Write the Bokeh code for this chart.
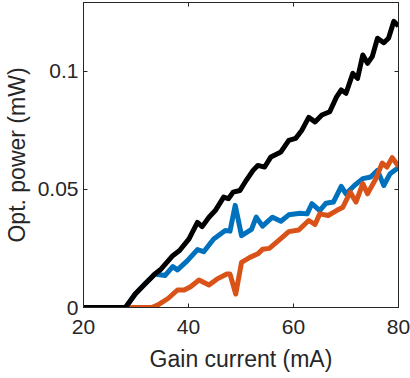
from bokeh.plotting import figure
from bokeh.models import Range1d, LinearAxis, FixedTicker, NumeralTickFormatter
from bokeh.embed import file_html
from bokeh.resources import INLINE

# Data (Gain current in mA, optical power in mW)
black_x = [20, 28.0, 29.85, 31.7, 33.6, 34.8, 37.0, 38.3, 40.1, 41.7, 42.6, 43.9, 45.1, 46.7, 47.6,
           48.5, 49.8, 51.0, 52.3, 53.2, 54.5, 55.7, 57.6, 59.1, 60.4, 61.6, 62.9, 64.1, 65.4, 66.9,
           68.2, 69.1, 70.0, 71.3, 72.2, 73.2, 74.1, 75.0, 76.0, 77.2, 78.1, 79.1, 80.0]
black_y = [0, 0, 0.0057, 0.0099, 0.0142, 0.0163, 0.0219, 0.0241, 0.029, 0.036, 0.0342, 0.0382, 0.041,
           0.0467, 0.046, 0.0488, 0.0495, 0.0538, 0.058, 0.0601, 0.0594, 0.0637, 0.0658, 0.0707, 0.0715,
           0.075, 0.0804, 0.0785, 0.0814, 0.0828, 0.0891, 0.092, 0.0906, 0.099, 0.0969, 0.1068, 0.1033,
           0.1061, 0.1139, 0.112, 0.1139, 0.121, 0.1191]

blue_x = [20, 28.0, 29.85, 31.7, 33.6, 35.5, 37.0, 37.9, 39.8, 41.7, 42.9, 44.8, 47.0, 47.9, 48.9, 50.1,
          52.0, 52.9, 54.1, 56.0, 57.6, 59.1, 61.3, 62.6, 63.5, 65.0, 66.2, 67.6, 69.1, 70.0, 71.6,
          73.2, 74.7, 76.0, 77.2, 78.4, 80.0]
blue_y = [0, 0, 0.0057, 0.0099, 0.0142, 0.0135, 0.0173, 0.0159, 0.0198, 0.0245, 0.0236, 0.029, 0.0326,
          0.0323, 0.0432, 0.0304, 0.033, 0.0382, 0.0344, 0.0382, 0.0365, 0.0392, 0.0399, 0.0396, 0.0439,
          0.041, 0.0441, 0.0446, 0.0512, 0.0481, 0.0516, 0.0545, 0.0552, 0.058, 0.0516, 0.0566, 0.0592]

orange_x = [20, 33.0, 34.2, 36.1, 37.9, 39.2, 40.4, 42.0, 43.9, 45.4, 47.3, 47.9, 49.0, 50.1, 51.7,
            53.2, 54.1, 55.4, 57.3, 59.1, 61.0, 62.9, 64.1, 65.0, 66.6, 68.2, 69.4, 70.8, 71.9, 73.2,
            74.1, 75.7, 76.9, 77.8, 78.8, 80.0]
orange_y = [0, 0, 0.0011, 0.0038, 0.0074, 0.0074, 0.0088, 0.0116, 0.0095, 0.012, 0.0142, 0.0142, 0.0057,
            0.0191, 0.0212, 0.0227, 0.0246, 0.025, 0.0286, 0.0321, 0.0328, 0.0368, 0.0351, 0.0396,
            0.0389, 0.041, 0.0424, 0.0488, 0.0446, 0.0524, 0.0481, 0.0545, 0.0611, 0.0594, 0.0634, 0.0597]

x_ticks = [20, 40, 60, 80]
y_ticks = [0, 0.05, 0.1]
x_label = "Gain current (mA)"
y_label = "Opt. power (mW)"

AX = "#262626"
FONT = "Liberation Sans"
TICK_FS = "21px"
LABEL_FS = "23px"

p = figure(width=410, height=378, output_backend="svg", toolbar_location=None,
           x_range=Range1d(20, 80), y_range=Range1d(0, 0.129),
           min_border_left=77, min_border_right=12, min_border_top=2, min_border_bottom=71,
           x_axis_label=x_label, y_axis_label=y_label)
p.grid.visible = False
p.outline_line_color = AX
p.outline_line_width = 1
p.background_fill_color = "white"
p.border_fill_color = "white"

def style_axis(ax, ticks, show_labels):
    ax.ticker = FixedTicker(ticks=ticks)
    ax.axis_line_color = AX
    ax.axis_line_width = 1
    ax.major_tick_line_color = AX
    ax.major_tick_in = 4
    ax.major_tick_out = 0
    ax.minor_tick_line_color = None
    ax.major_label_text_font = FONT
    ax.major_label_text_color = AX
    ax.axis_label_text_font = FONT
    ax.axis_label_text_font_size = LABEL_FS
    ax.axis_label_text_font_style = "normal"
    ax.axis_label_text_color = AX
    if show_labels:
        ax.major_label_text_font_size = TICK_FS
    else:
        ax.major_label_text_font_size = "0px"
        ax.major_label_standoff = 0
        ax.major_label_text_alpha = 0

xa = p.xaxis[0]
style_axis(xa, x_ticks, True)
xa.major_label_standoff = 12
xa.axis_label_standoff = 9

ya = p.yaxis[0]
style_axis(ya, y_ticks, True)
ya.major_label_standoff = 5
ya.axis_label_standoff = 5
ya.formatter = NumeralTickFormatter(format="0.[00]")

top = LinearAxis()
style_axis(top, x_ticks, False)
p.add_layout(top, "above")
right = LinearAxis()
style_axis(right, y_ticks, False)
p.add_layout(right, "right")

p.line(blue_x, blue_y, line_color="#0072BD", line_width=5, line_join="round")
p.line(orange_x, orange_y, line_color="#D95319", line_width=5, line_join="round")
p.line(black_x, black_y, line_color="#000000", line_width=5, line_join="round")

open("out.html", "w").write(file_html(p, INLINE))
